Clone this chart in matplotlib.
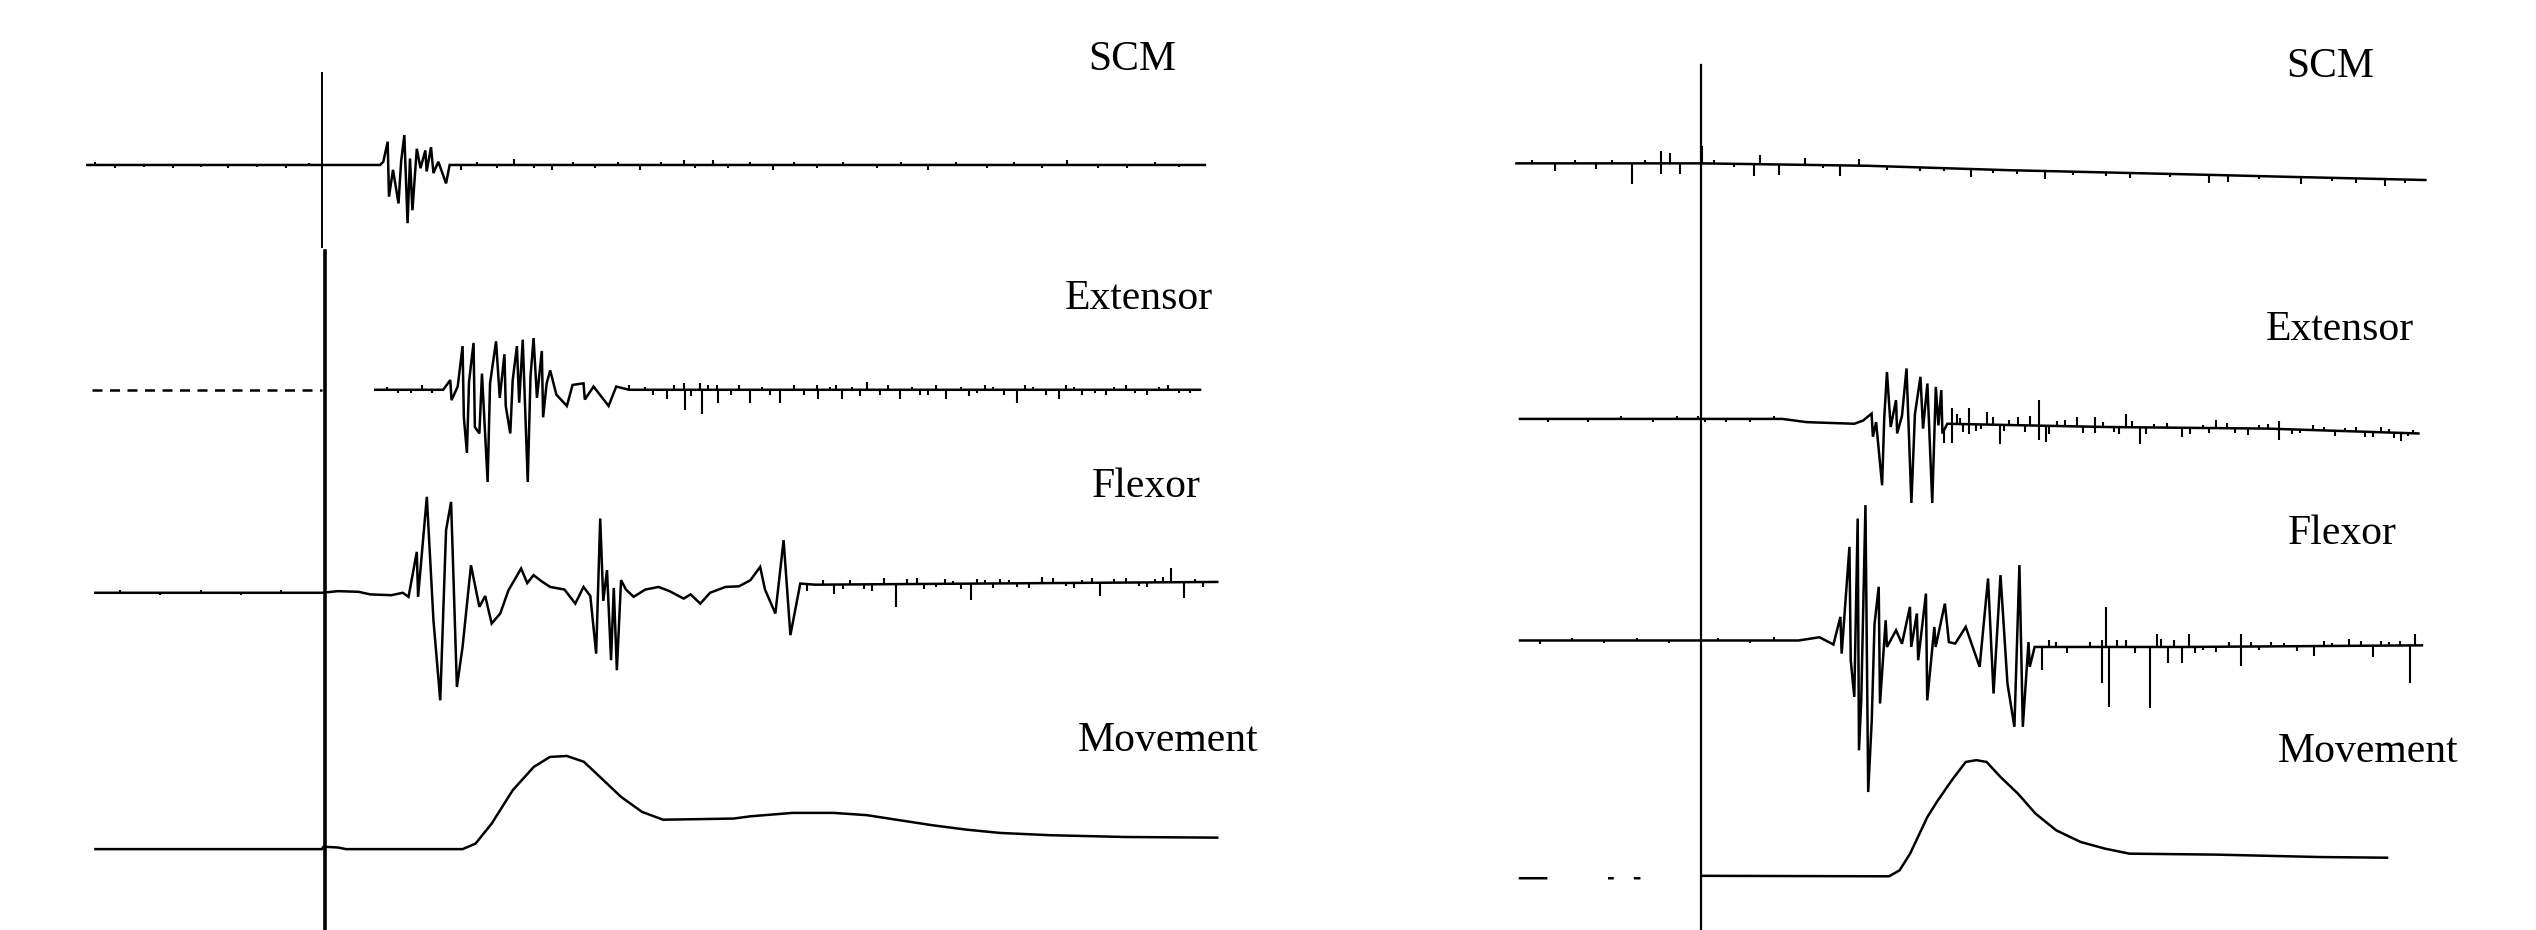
import matplotlib.pyplot as plt
import numpy as np

plt.rcParams['font.family'] = ['Liberation Serif', 'DejaVu Serif']

nan = np.nan

# traces as (time after stimulus, amplitude):
# the line lists hold baseline drift and bursts, *_ticks the short noise spikes off the baseline
# --- left recording ---
scm_left = [(-145, 0), (36, 0), (38, 2), (40.7, 14.4), (41.5, -19.6), (44, -3), (47.4, -23.8), (49, 2),
            (51, 18.5), (53, -36), (54.5, 4), (56, -28), (58.7, 10), (61, -2), (64, 9), (64.8, -4),
            (67.5, 11), (69, -5), (72, 2), (76.8, -11.4), (79, 0), (546, 0)]
scm_left_ticks = [(-140, 2), (-128, -2), (-110, -1.5), (-92, -2), (-75, -1.5), (-58, -2), (-40, -1.5),
                  (-22, -2), (-8, 1.5), (86, -3), (96, 2), (108, -2), (119, 4), (131, -2), (142, -3),
                  (155, 2), (169, -2), (183, 2), (197, -3), (210, 2), (224, 3), (231, -2), (242, 3),
                  (251, -2), (265, 2), (279, -3), (292, 2), (306, -2), (322, 2), (343, -2), (358, 2),
                  (375, -3), (392, 2), (411, -2), (428, 2), (445, -2), (461, 3), (480, -2), (498, -2),
                  (515, 2), (530, -1.5)]

ext_left_pre = [(-142, 0), (0, 0)]
ext_left = [(33, 0), (75, 0), (79.4, 6), (80.2, -6.4), (84, 2), (87, 27), (87.8, -17), (89.7, -39),
            (91, 5), (93.8, 29), (94.6, -23), (97.4, -27), (99, 10), (102.5, -57), (104, 4),
            (107.7, 30), (110, -5), (112.9, 22), (113.7, -10), (116.5, -27), (118, 6), (120.6, 27),
            (122, -8), (124.2, 31), (127.3, -57), (129, 8), (130.9, 32), (133, -5), (136, 24),
            (136.8, -17), (139, 4), (141.2, 12), (145, -3), (151.5, -10), (155, 3), (161.8, 4),
            (162.6, -6), (168, 2), (177.3, -10), (182, 2), (190, 0), (543, 0)]
ext_left_ticks = [(40, 2), (47, -2), (55, -2), (62, 3), (68, -2), (190, 3), (200, 2), (205, -3),
                  (213.4, -6), (218, 3), (223.7, 4), (224.5, -12.6), (228, -4), (234, 4), (234.8, -15),
                  (239, 3), (244.3, 3), (245, -8), (253, -3), (258, 3), (265, -8), (272, 2), (277, -3),
                  (283, -8), (292, 3), (298, -3), (306, 3), (306.8, -6), (314, 2), (318, 3),
                  (321.6, -6), (328, 2), (333, -4), (337, 5), (345, -3), (350, 3), (357.7, -6),
                  (365, 2), (370, -3), (375, -3), (380, 3), (386, -6), (395, 2), (400, -4), (405, -2),
                  (410, 3), (415, 2), (422, -3), (429.9, -8), (435, 3), (440, 2), (448, -3),
                  (455.6, -6), (460, 3), (465, 2), (470, -3), (478, -2), (485, -3), (490, 2),
                  (497, 3), (503, -2), (510, -3), (517.5, 2), (523, 3), (530, -2), (537, -2)]

flx_left = [(-140, 0), (0, 0), (10, 1), (22.6, 0.6), (30, -1), (43, -1.5), (50, 0), (53.6, -2.5),
            (58.7, 25.3), (59.5, -2.5), (64.9, 59.3), (69, -17), (73.2, -66.5), (76.8, 38.7),
            (79.9, 56.2), (83.5, -58.2), (87, -33.5), (92.2, 17), (97.4, -8.7), (101, -2), (105, -19),
            (110.3, -12.8), (115.4, 1.6), (123.2, 15), (127, 6), (130.9, 10.9), (136, 7), (141.2, 3.6),
            (150, 2), (156.7, -6.7), (161.8, 3.6), (166, -2), (169.6, -37.6), (172.1, 45.9), (174, -5),
            (176.3, 14), (178.8, -41.7), (180.5, 3), (182.4, -47.9), (185, 7.8), (188, 2),
            (192.8, -2.5), (200, 2), (208.2, 3.6), (215, 1), (223.7, -3.6), (228, -1), (234, -6.7),
            (240, 0), (249.5, 3.6), (258, 4), (265, 7.8), (271, 16), (274, 2), (280.4, -12.8),
            (285.5, 32.5), (289.7, -26.2), (295.8, 5.7), (305, 5), (553.6, 6.7)]
flx_left_ticks = [(-125, 1.5), (-100, -1.5), (-75, 1.5), (-50, -1.5), (-25, 1.5), (300, -4), (310, 3),
                  (316.5, -6), (322, -3), (326.8, 3), (335, -3), (340, -4), (347.4, 4), (355, -14),
                  (362, 3), (368, 4), (372, -3), (380, -2), (385, 3), (390, 2), (395, -3),
                  (401.5, -10), (405, 3), (410, 2), (415, -3), (419.6, 3), (425, 2), (430, -2),
                  (437, -3), (445.3, 4), (452, 3), (460, -2), (465, -3), (470, 2), (476, 3),
                  (481.4, -8), (490, 2), (497, 3), (505, -2), (510, -3), (515, 2), (520, 3),
                  (525.2, 9), (533, -10), (540, 2), (545, -3)]

mov_left = [(-140, 0), (0, 0), (1, 1.5), (10, 1), (15, 0), (87, 0), (95, 3.4), (105, 15.8), (118, 36.4),
            (131, 50.8), (141, 57), (151.5, 57.6), (162, 54), (172, 44.6), (185, 32.3), (198, 23),
            (211, 18.2), (254.6, 18.9), (265, 20.3), (291, 22.4), (316.5, 22.4), (337, 21),
            (357.7, 17.8), (378, 14.7), (399, 12), (419.6, 10), (450.5, 8.6), (497, 7.5), (553.6, 7.1)]

# --- right recording ---
scm_right = [(-114.4, 0), (0, 0), (103, -1.5), (189, -4.2), (275, -6.2), (318, -7.2), (361.5, -8.3),
             (447.6, -10.3)]
scm_right_ticks = [(-105, 2), (-90.7, -4.7), (-78, 2), (-65, -3.7), (-55, 2), (-43.1, -13), (-35, 2),
                   (-25.3, 7.6), (-25.3, -6.8), (-19.4, 6.6), (-13.4, -6.8), (0.4, 10.7), (8, 2),
                   (20, -2), (32.2, -7.2), (36.1, 6), (48, -6.8), (63.9, 4), (75, -2), (85.7, -6.8),
                   (97.6, 4), (115, -2), (135, -2), (150, -2), (166.9, -5), (180, -2), (195, -2),
                   (212.5, -5), (230, -2), (250, -2), (265, -3), (290, -2), (313.6, -5), (325.5, -4),
                   (345, -2), (371, -4), (390, -2), (405, -3), (422.6, -4), (435, -2)]

ext_right = [(-112.2, 0), (50, 0), (65, -2), (94.5, -3), (100, -1), (105.2, 3.3), (106, -11), (108, -2),
             (111.7, -41), (113, 0), (114.7, 29), (117, -5), (120.3, 11.6), (121, -9), (124, 2),
             (126.8, 31.2), (129.8, -52), (132, 3), (135.4, 26), (137, -6), (139.7, 21.9),
             (142.7, -52), (144.9, 19.8), (146.5, -4), (148.3, 17.8), (149, -9), (152, -3), (250, -5),
             (350, -6), (443.3, -9)]
ext_right_ticks = [(-95, -2), (-70, -2), (-50, 2), (-30, -2), (-15, 2), (-2, 2), (2, -2), (15, -2),
                   (30, -2), (45, 2), (150, -8), (154.8, 10), (154.8, -12), (158, 6), (160, 4),
                   (162, -5), (165.5, 10), (165.5, -6), (170, -4), (173, -3), (176.3, 8), (180, 5),
                   (184.9, -12), (187, -4), (190, 3), (195.7, 5), (200, -4), (203, 6), (208.6, 16),
                   (208.6, -9), (212.9, -10), (215, -5), (220, 3), (225, 4), (232.3, 6), (236, -4),
                   (243.1, 6), (243.1, -4), (248, 3), (255, -3), (258, -4), (262.5, 8), (266, 4),
                   (271.1, -10), (275, -4), (280, 2), (288, 3), (296.9, -6), (302, -4), (310, 2),
                   (314, -3), (318.4, 5), (325, 3), (330, -3), (338, -4), (345, 2), (350, 3),
                   (357.2, 5), (357.2, -7), (365, -3), (370, -2), (378, 3), (385, 2), (392, -3),
                   (398, 2), (404.6, 3), (410, -3), (415, -3), (420, 3), (425, 2), (428, -3),
                   (432.5, -5), (437, -2), (440, 2)]

flx_right = [(-112.2, 0), (60, 0), (73, 2), (81.6, -2.5), (85.9, 14.6), (86.7, -8.1), (91.5, 57.9),
             (92.3, -12.2), (94.5, -34.9), (96.6, 75.4), (97.4, -67.9), (98.8, -37), (101.4, 83.7),
             (103.1, -93.7), (105.3, -49.3), (107, 10), (109.6, 33.2), (110.4, -39), (113.9, 12.5),
             (114.7, -4), (120.3, 6.3), (124, -2), (128.9, 20.8), (129.7, -4), (133.2, 16.7),
             (134, -12.2), (138.8, 29), (139.6, -37), (144, 8.4), (144.8, -4), (150.5, 22.8), (153, -1),
             (156.9, -1.9), (163.4, 8.4), (167, -2), (172, -16.3), (177.2, 38.3), (180.6, -32.8),
             (184.9, 40.4), (189.2, -26.6), (193.5, -53.4), (196.6, 46.6), (198.7, -53.4), (202.2, -1),
             (203, -16.3), (206, -4), (300, -4), (445.5, -3)]
flx_right_ticks = [(-100, -2), (-80, 1.5), (-60, -1.5), (-40, 1.5), (-20, -1.5), (10, 1.5), (30, -1.5),
                   (45, 2), (210.8, -14), (215, 4), (219.4, 3), (226, -4), (240, 3), (247.4, 4),
                   (247.4, -22), (250.4, 25), (252.1, -37), (257, 4), (262.4, 4), (268, -4),
                   (277.5, -38), (281.8, 8), (284, 5), (288.3, -10), (292, 4), (296.9, -10),
                   (301.2, 8), (305, -4), (310, -2), (318.4, -3), (326, 3), (333.5, 8), (333.5, -12),
                   (340, 3), (345, -2), (352, 3), (360, 2), (368, -3), (378.7, -6), (385, 3),
                   (390, 2), (400.3, 4), (408, 3), (415.3, -7), (420, 3), (425, 2), (432, 3),
                   (438.2, -23), (441.2, 7)]

mov_right = [(-112.2, 0), (-96, 0), (nan, nan), (-57, 0), (-55, 0), (nan, nan), (-41, 0), (-38.5, 0),
             (nan, nan), (0, 1.5), (116, 1.2), (122.5, 4.9), (129, 15.2), (139.7, 37.9), (146.2, 48.2),
             (154.8, 60.6), (163.4, 71.9), (170, 73), (176.3, 71.9), (184.9, 62.6), (195.7, 52.3),
             (206.5, 40), (219.4, 29.6), (234.5, 22.4), (249.5, 18.3), (264.6, 15.2), (318.4, 14.6),
             (383, 13.1), (423.9, 12.7)]

labels = ['SCM', 'Extensor', 'Flexor', 'Movement']

# layout: baseline depth of each trace, label anchors
left_base = [102, 241, 366.5, 525]
right_base = [101, 259, 396, 543]
left_lab = [(501, 37), (505, 185), (510, 301), (523, 458)]
right_lab = [(389, 41), (395, 204), (396, 330), (412, 465)]

fig = plt.figure(figsize=(25.36, 9.30), dpi=100)
axl = fig.add_axes([0, 0, 0.5, 1])
axr = fig.add_axes([0.5, 0, 0.5, 1])
axl.set_xlim(-199, 585)
axr.set_xlim(-268, 516)

lw = 1.8
panels = [
    (axl, [scm_left, ext_left, flx_left, mov_left],
     [scm_left_ticks, ext_left_ticks, flx_left_ticks, None], left_base, left_lab),
    (axr, [scm_right, ext_right, flx_right, mov_right],
     [scm_right_ticks, ext_right_ticks, flx_right_ticks, None], right_base, right_lab),
]
for ax, traces, ticks, base, labpos in panels:
    ax.set_ylim(-575, 0)
    ax.axis('off')
    for tr, tk, b in zip(traces, ticks, base):
        t, a = np.array(tr, dtype=float).T
        ax.plot(t, a - b, color='black', lw=lw, solid_joinstyle='miter')
        if tk is not None:
            tt, amp = np.array(tk, dtype=float).T
            y0 = np.interp(tt, t, a) - b
            ax.vlines(tt, y0, y0 + amp, color='black', lw=1.5)
    for name, (x, y) in zip(labels, labpos):
        ax.text(x, -y, name, fontsize=30, ha='center', va='center', color='black')

# dashed pre-stimulus part of the left extensor
t, a = np.array(ext_left_pre, dtype=float).T
axl.plot(t, a - left_base[1], color='black', lw=lw, ls=(0, (4, 3)))

# stimulus markers
axl.axvline(0, ymin=0.734, ymax=0.922, color='black', lw=1.4)
axl.axvline(2, ymin=0, ymax=0.73, color='black', lw=2.6)
axr.axvline(0, ymin=0, ymax=0.930, color='black', lw=1.6)

fig.savefig('out.png', dpi=100, facecolor='white')
